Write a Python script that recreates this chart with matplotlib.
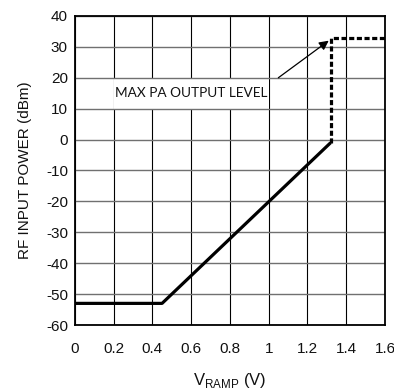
import numpy as np
import matplotlib
matplotlib.use('Agg')
import matplotlib.pyplot as plt
from matplotlib.patches import Rectangle

# datos
v_ramp = [0.0, 0.45, 1.32]
p_in = [-53, -53, -1]
v_max = [1.32, 1.32, 1.6]
p_max = [-1, 33, 33]
x_ticks = [0, 0.2, 0.4, 0.6, 0.8, 1.0, 1.2, 1.4, 1.6]
x_labels = ['0', '0.2', '0.4', '0.6', '0.8', '1', '1.2', '1.4', '1.6']
y_ticks = [-60, -50, -40, -30, -20, -10, 0, 10, 20, 30, 40]

plt.rcParams['font.family'] = ['Liberation Sans', 'DejaVu Sans']
plt.rcParams['axes.unicode_minus'] = False
plt.rcParams['mathtext.fontset'] = 'custom'
plt.rcParams['mathtext.rm'] = 'Liberation Sans'

f = plt.figure(figsize=(3.94, 3.89), dpi=100)
ax = f.add_axes([0.190, 0.1645, 0.787, 0.7945])

ax.set_xlim(0, 1.6)
ax.set_ylim(-60, 40)
ax.set_xticks(x_ticks)
ax.set_xticklabels(x_labels)
ax.set_yticks(y_ticks)
ax.tick_params(axis='x', length=0, pad=12, labelsize=11, labelcolor='#111111')
ax.tick_params(axis='y', length=0, pad=5, labelsize=11, labelcolor='#111111')

# rejilla: horizontales grises, verticales negras
for yv in y_ticks:
    ax.axhline(yv, color='#707070', lw=1.0, zorder=2)
for xv in x_ticks:
    ax.axvline(xv, color='black', lw=0.8, zorder=1)

for s in ax.spines.values():
    s.set_linewidth(1.3)
    s.set_zorder(5)

ax.plot(v_ramp, p_in, color='black', lw=2.3, solid_capstyle='butt', zorder=3)
ax.plot(v_max, p_max, color='black', lw=2.3, linestyle=(0, (1.6, 0.8)), zorder=3)

ax.annotate('', xy=(1.31, 32), xytext=(1.05, 20),
            arrowprops=dict(arrowstyle='-|>', color='black', lw=0.9,
                            mutation_scale=14, shrinkA=0, shrinkB=0), zorder=4)
ax.add_patch(Rectangle((0.2, 10), 0.8, 10, facecolor='white', edgecolor='none', zorder=1.5))
ax.text(0.207, 15, 'MAX PA OUTPUT LEVEL', fontsize=9.8, family=['Lato', 'DejaVu Sans'],
        va='center', ha='left', zorder=4, color='#111111')

ax.set_ylabel('RF INPUT POWER (dBm)', fontsize=11, labelpad=10, color='#111111')
ax.set_xlabel(r'V$_{\rm RAMP}$ (V)', fontsize=12, labelpad=11, color='#111111')

f.savefig('out.png', dpi=100)
plt.close('all')
